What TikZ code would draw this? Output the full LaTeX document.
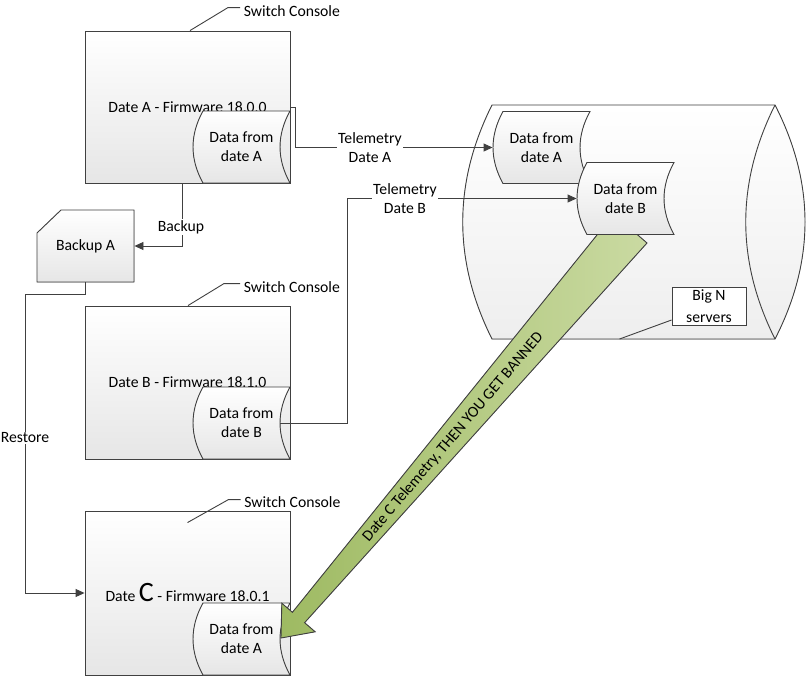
\documentclass[tikz,border=0pt]{standalone}
\usepackage{fontspec}
\setmainfont{Carlito}
\usetikzlibrary{arrows.meta}

\definecolor{edgegray}{RGB}{64,64,64}
\definecolor{shadegray}{RGB}{230,230,230}
\definecolor{drumgray}{RGB}{238,238,238}
\definecolor{oliveleft}{RGB}{158,186,98}
\definecolor{oliveright}{RGB}{202,218,162}

\tikzset{
  every node/.style={font=\fontsize{15.7}{19}\selectfont, text=black},
  console/.style={draw=edgegray, top color=white, bottom color=shadegray, minimum width=205pt},
  boxface/.style={draw=edgegray, top color=white, bottom color=shadegray},
  dataface/.style={draw=edgegray, top color=white, bottom color=shadegray},
  drumface/.style={draw=edgegray, top color=white, bottom color=drumgray},
  datalabel/.style={minimum width=97pt, minimum height=72pt, inner sep=0pt, align=center},
  tag/.style={fill=white, inner sep=1pt, align=center},
  bigarrow/.style={draw=edgegray, left color=oliveleft, right color=oliveright},
}

% stored data shape: name, centre, text
\newcommand{\storeddata}[3]{%
  \begin{scope}[shift={(#2)}]
    \filldraw[dataface] (-38.5,-36) .. controls (-51.8,-12) and (-51.8,12) .. (-38.5,36)
      -- (48.5,36) .. controls (35.2,12) and (35.2,-12) .. (48.5,-36) -- cycle;
    \node[datalabel] (#1) at (0,0) {#3};
  \end{scope}}

\begin{document}
\begin{tikzpicture}[x=1pt,y=-1pt,line width=0.9pt,>={Triangle[length=9pt,width=8pt]}]
\useasboundingbox[fill=white] (0,0) rectangle (807,678);

% Big N servers
\filldraw[drumface] (492,105) -- (775,105) .. controls (815,183) and (815,261) .. (775,339)
  -- (492,339) .. controls (453,261) and (453,183) .. cycle;
\draw[edgegray] (775,105) .. controls (736,183) and (736,261) .. (775,339);
\storeddata{srvA}{541.5,147.5}{Data from\\date A}

% consoles
\node[console, minimum height=152pt] (boxA) at (187.5,107) {Date A - Firmware 18.0.0};
\storeddata{dataA}{241.5,147}{Data from\\date A}
\draw[edgegray] ([xshift=2.5pt]boxA.north) -- ++(38,-23) -- ++(12,0) node[right, yshift=-4pt]{Switch Console};

\filldraw[boxface] (37,233) -- (61,210) -- (134,210) -- (134,282) -- (37,282) -- cycle;
\node[minimum width=97pt, minimum height=72pt] (bkA) at (85.5,246) {Backup A};

\node[console, minimum height=153pt] (boxB) at (187.5,382.5) {Date B - Firmware 18.1.0};
\storeddata{dataB}{241.5,423}{Data from\\date B}
\draw[edgegray] ([xshift=0.5pt]boxB.north) -- ++(36,-22) -- ++(16,0) node[right, yshift=-4pt]{Switch Console};

\node[console, minimum height=164pt] (boxC) at (187.5,593) {Date {\fontsize{28}{28}\selectfont C} - Firmware 18.0.1};
\storeddata{dataC}{241.5,639}{Data from\\date A}
\draw[edgegray] ([yshift=-12pt]boxC.north) -- ++(41,-23) -- ++(12,0) node[right, yshift=-3pt]{Switch Console};

% the big arrow
\filldraw[bigarrow] (647,243) -- (304.6,622.7) -- (315.2,631.8) -- (281,638)
  -- (281.8,603.2) -- (292.4,612.3) -- (613.8,214.2) -- cycle;
\node[rotate=49.5] (warn) at (453,437) {Date C Telemetry, THEN YOU GET BANNED};

\storeddata{srvB}{625.5,198.5}{Data from\\date B}

\node[draw=edgegray, fill=white, align=center, minimum width=74pt, minimum height=38pt, inner sep=0pt,
  font=\fontsize{15.7}{22}\selectfont] (bigN) at (709,306) {Big N\\servers};
\draw[edgegray] ([yshift=-14pt]bigN.west) -- ++(-52,19);

% connectors
\draw[->, edgegray] (boxA.east) -- ++(5,0) |- (srvA.west);
\node[tag] (telA) at (370,148) {Telemetry\\Date A};
\draw[->, edgegray] ([xshift=-10pt]dataB.east) -- ++(67,0) |- (srvB.west);
\node[tag] (telB) at (405,199) {Telemetry\\Date B};
\draw[->, edgegray] ([xshift=-5.5pt]boxA.south) |- (bkA.east);
\node[tag] (bkup) at (181,227) {Backup};
\draw[->, edgegray] (bkA.south) -- ++(0,12) -- ++(-60,0) |- (boxC.west);
\node[tag] (rest) at (25,438) {Restore};
\end{tikzpicture}
\end{document}
